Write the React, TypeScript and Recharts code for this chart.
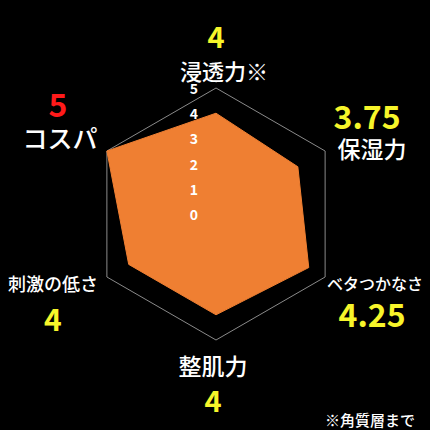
import { RadarChart, Radar, PolarGrid, PolarAngleAxis, PolarRadiusAxis } from "recharts";

const axisNames = ["浸透力※", "保湿力", "ベタつかなさ", "整肌力", "刺激の低さ", "コスパ"];
const scores = [4, 3.75, 4.25, 4, 4, 5];
const scoreLabels = ["4", "3.75", "4.25", "4", "4", "5"];
const scoreColors = ["#f7f52a", "#f7f52a", "#f7f52a", "#f7f52a", "#f7f52a", "#ff1a1a"];
const radiusTicks = [0, 1, 2, 3, 4, 5];
const footnote = "※角質層まで";

const data = axisNames.map((name, i) => ({ name, score: scores[i] }));

// label offsets relative to the angle-axis tick point (name / value)
const layout = [
  { ndx: 8, ndy: -10, ns: 22, vdx: 0, vdy: -45, vs: 29 },
  { ndx: 40, ndy: 1, ns: 23, vdx: 35, vdy: -32, vs: 32 },
  { ndx: 43, ndy: 2, ns: 16, vdx: 40, vdy: 32, vs: 32 },
  { ndx: -3, ndy: 17, ns: 23, vdx: -3, vdy: 51, vs: 29 },
  { ndx: -47, ndy: 2, ns: 18, vdx: -47, vdy: 37, vs: 30 },
  { ndx: -40, ndy: -10, ns: 25, vdx: -42, vdy: -44, vs: 32 },
];

const FONT = "'Noto Sans CJK JP', 'Noto Sans', sans-serif";

function AngleTick(props: any) {
  const { x, y, payload } = props;
  const i = axisNames.indexOf(payload.value);
  const l = layout[i];
  return (
    <g>
      <text
        x={x + l.ndx}
        y={y + l.ndy}
        textAnchor="middle"
        dominantBaseline="central"
        fill="#ffffff"
        fontSize={l.ns}
        fontWeight={500}
        fontFamily={FONT}
      >
        {payload.value}
      </text>
      <text
        x={x + l.vdx}
        y={y + l.vdy}
        textAnchor="middle"
        dominantBaseline="central"
        fill={scoreColors[i]}
        fontSize={l.vs}
        fontWeight={700}
        fontFamily={FONT}
      >
        {scoreLabels[i]}
      </text>
    </g>
  );
}

function RadiusTick(props: any) {
  const { x, y, payload } = props;
  return (
    <text
      x={x - 22}
      y={y}
      textAnchor="middle"
      dominantBaseline="central"
      fill="#ffffff"
      fontSize={14}
      fontWeight={700}
      fontFamily={FONT}
    >
      {payload.value}
    </text>
  );
}

export default function App() {
  return (
    <div
      style={{
        position: "absolute",
        left: 0,
        top: 0,
        width: 430,
        height: 430,
        background: "#000",
        overflow: "hidden",
      }}
    >
      <RadarChart
        width={430}
        height={430}
        data={data}
        cx={216}
        cy={214}
        outerRadius={126}
        margin={{ top: 0, right: 0, bottom: 0, left: 0 }}
      >
        <PolarGrid
          gridType="polygon"
          polarRadius={[126]}
          radialLines={false}
          stroke="#8a8a8a"
          strokeWidth={1}
        />
        <PolarAngleAxis
          dataKey="name"
          axisLine={false}
          tickLine={false}
          tick={<AngleTick />}
        />
        <Radar
          dataKey="score"
          fill="#ef7f32"
          fillOpacity={1}
          stroke="#ef7f32"
          strokeWidth={1}
          isAnimationActive={false}
        />
        <PolarRadiusAxis
          angle={90}
          domain={[0, 5]}
          ticks={radiusTicks as any}
          tickCount={6}
          axisLine={false}
          tickLine={false}
          tick={<RadiusTick />}
        />
        <text
          x={370}
          y={419}
          textAnchor="middle"
          dominantBaseline="central"
          fill="#ffffff"
          fontSize={15}
          fontWeight={500}
          fontFamily={FONT}
        >
          {footnote}
        </text>
      </RadarChart>
    </div>
  );
}
